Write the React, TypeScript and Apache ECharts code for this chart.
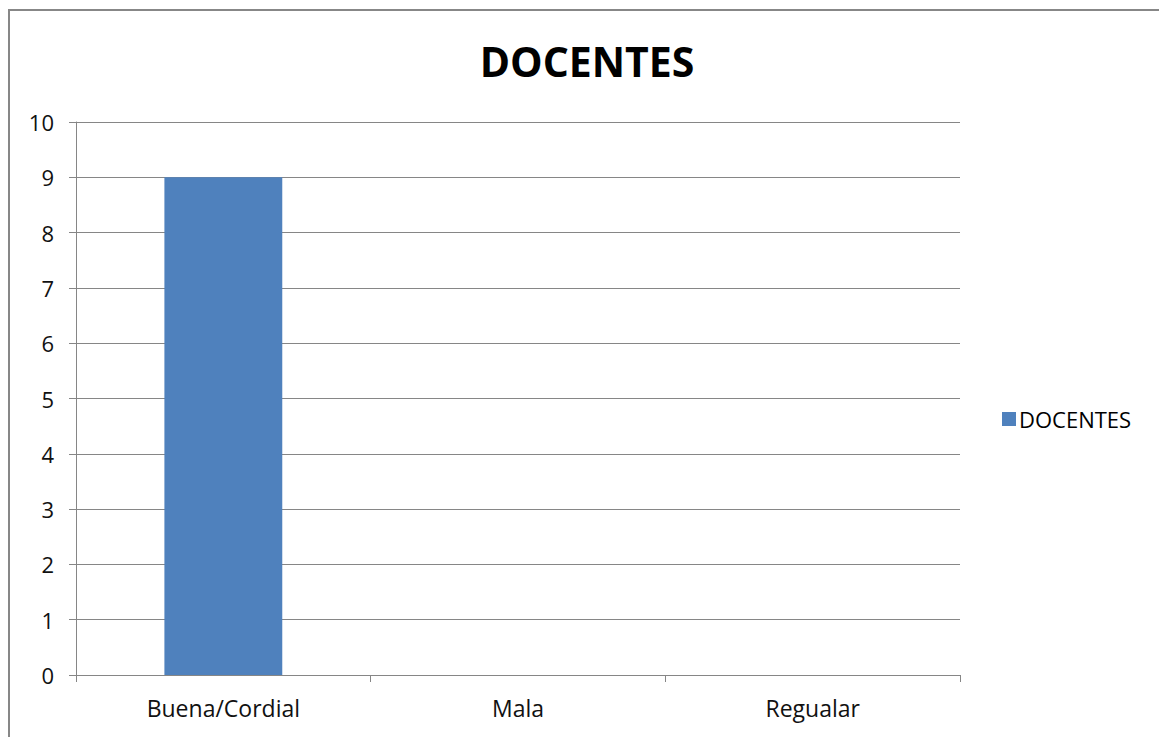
import React, { useEffect, useRef } from "react";
import * as echarts from "echarts";

const categories = ["Buena/Cordial", "Mala", "Regualar"];
const docentes = [9, 0, 0];
const seriesName = "DOCENTES";
const titleText = "DOCENTES";

export default function App() {
  const ref = useRef<HTMLDivElement>(null);
  useEffect(() => {
    if (!ref.current) return;
    const chart = echarts.init(ref.current, null, { renderer: "svg" });
    const font = "Open Sans";
    chart.setOption({
      animation: false,
      backgroundColor: "#ffffff",
      title: {
        text: titleText,
        left: 582,
        textAlign: "center",
        top: 35,
        textStyle: { fontFamily: font, fontWeight: "bold", fontSize: 41, color: "#000" },
      },
      legend: {
        orient: "vertical",
        left: 997,
        top: 403,
        itemWidth: 14,
        itemHeight: 14,
        itemGap: 6,
        icon: "rect",
        textStyle: { fontFamily: font, fontSize: 22, color: "#000", padding: [0, 0, 0, -2] },
        data: [seriesName],
      },
      graphic: [
        {
          type: "rect",
          shape: { x: 9, y: 10, width: 1300, height: 900 },
          style: { fill: "none", stroke: "#878787", lineWidth: 2 },
          silent: true,
        },
      ],
      grid: { left: 76, right: 199, top: 122, bottom: 62, containLabel: false },
      xAxis: {
        type: "category",
        data: categories,
        axisLine: { lineStyle: { color: "#868686", width: 1 } },
        axisTick: { show: true, length: 7, alignWithLabel: false, lineStyle: { color: "#868686" } },
        axisLabel: { fontFamily: font, fontSize: 23, color: "#111", margin: 21 },
      },
      yAxis: {
        type: "value",
        min: 0,
        max: 10,
        interval: 1,
        axisLine: { show: true, lineStyle: { color: "#868686", width: 1 } },
        axisTick: { show: true, length: 7, lineStyle: { color: "#868686" } },
        axisLabel: { fontFamily: font, fontSize: 22, color: "#111", margin: 22 },
        splitLine: { lineStyle: { color: "#868686", width: 1 } },
      },
      series: [
        {
          name: seriesName,
          type: "bar",
          data: docentes,
          barWidth: "40%",
          itemStyle: { color: "#4f81bd" },
        },
      ],
    });
    return () => chart.dispose();
  }, []);
  return (
    <div
      ref={ref}
      style={{ position: "fixed", left: 0, top: 0, width: 1159, height: 737 }}
    />
  );
}
